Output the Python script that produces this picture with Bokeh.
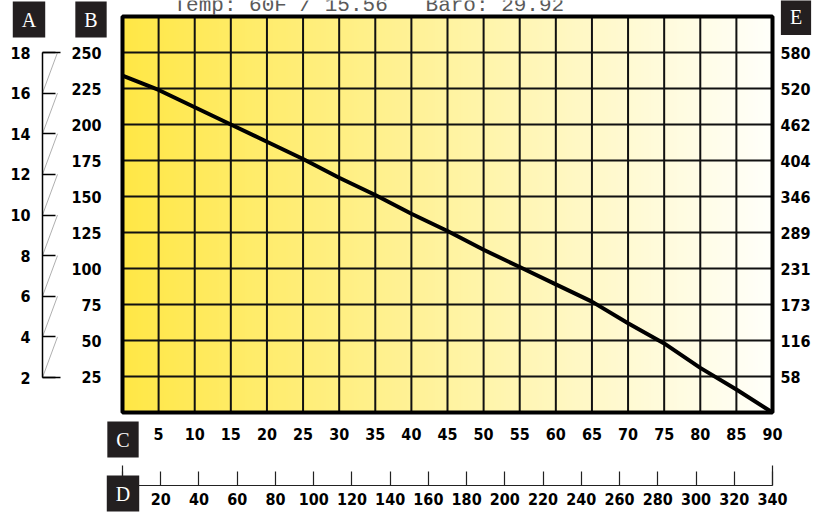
import numpy as np
from bokeh.plotting import figure
from bokeh.models import Range1d, LinearAxis, FixedTicker, Label
from bokeh.embed import file_html
from bokeh.resources import INLINE

# ---------------- data ----------------
angle_deg = [0, 5, 10, 15, 20, 25, 30, 35, 40, 45, 50, 55, 60, 65, 70, 75, 80, 85, 90]
value_b = [234, 224, 212, 200, 188, 176, 163, 151, 138, 126, 113, 101, 89, 77, 62, 48, 31, 16, 0]

c_ticks = [5, 10, 15, 20, 25, 30, 35, 40, 45, 50, 55, 60, 65, 70, 75, 80, 85, 90]
b_ticks = [25, 50, 75, 100, 125, 150, 175, 200, 225, 250]
e_labels = ["58", "116", "173", "231", "289", "346", "404", "462", "520", "580"]
a_ticks = [2, 4, 6, 8, 10, 12, 14, 16, 18]
d_ticks = [0, 20, 40, 60, 80, 100, 120, 140, 160, 180, 200, 220, 240, 260, 280, 300, 320, 340]
title_parts = ["Temp: 60F / 15.56", "Baro: 29.92"]
box_letters = ["A", "B", "C", "D", "E"]

X_MAX = 90      # end of the angle scale
Y_MAX = 275     # top of the B scale
D_MAX = 340     # end of the D scale

# ---------------- layout (pixels on the 816x513 canvas) ----------------
W, H = 816, 513
PL, PR, PT, PB = 122, 772, 16, 412          # chart box
A_LO_PX, A_HI_PX = 377, 52                  # where A = 2 and A = 18 sit
A_AXIS_PX = 42                              # x of the A scale line
A_TICK_PX = 55                              # x of the A tick ends
A_END_TICK_PX = 60                          # x of the longer end ticks
D_AXIS_PX = 485                             # y of the D scale line
D_END_TICK_PX = 465                         # top of the longer D end ticks


def x_at(px):
    return (px - PL) / (PR - PL) * X_MAX


def y_at(py):
    return (PB - py) / (PB - PT) * Y_MAX


def a_at(py):
    per = (A_LO_PX - A_HI_PX) / (a_ticks[-1] - a_ticks[0])
    return a_ticks[0] + (A_LO_PX - py) / per


def d_at(px):
    return (px - PL) / (PR - PL) * D_MAX


TICK_FONT = "DejaVu Sans Condensed"

p = figure(width=W, height=H,
           x_range=Range1d(x_at(0), x_at(W)), y_range=Range1d(y_at(H), y_at(0)),
           x_axis_location=None, y_axis_location=None,
           output_backend="svg", toolbar_location=None,
           min_border=0)
p.extra_y_ranges = {"A": Range1d(a_at(H), a_at(0))}
p.extra_x_ranges = {"D": Range1d(d_at(0), d_at(W))}
p.background_fill_color = "white"
p.border_fill_color = "white"
p.outline_line_color = None
p.grid.visible = False

# gradient background of the chart box (style)
N = 256
t = np.linspace(0.0, 1.0, N)
c0 = np.array([255, 231, 70])
c1 = np.array([255, 255, 250])
img = np.empty((1, N), dtype=np.uint32)
view = img.view(dtype=np.uint8).reshape((1, N, 4))
for k in range(3):
    view[0, :, k] = np.round(c0[k] + (c1[k] - c0[k]) * t).astype(np.uint8)
view[0, :, 3] = 255
p.image_rgba(image=[img], x=0, y=0, dw=X_MAX, dh=Y_MAX)

# grid lines at the tick values
p.segment(x0=c_ticks, y0=[0] * len(c_ticks), x1=c_ticks, y1=[Y_MAX] * len(c_ticks),
          line_color="#111111", line_width=2)
p.segment(x0=[0] * len(b_ticks), y0=b_ticks, x1=[X_MAX] * len(b_ticks), y1=b_ticks,
          line_color="#111111", line_width=2)

# data line
p.line(angle_deg, value_b, line_color="black", line_width=4)

# chart box outline
p.quad(left=0, right=X_MAX, bottom=0, top=Y_MAX, fill_color=None,
       line_color="black", line_width=4)


def style(ax):
    ax.major_label_text_font = TICK_FONT
    ax.major_label_text_font_style = "bold"
    ax.major_label_text_font_size = "16px"
    ax.major_label_text_color = "black"
    ax.minor_tick_line_color = None


def bare(ax):
    ax.axis_line_color = None
    ax.major_tick_line_color = None
    ax.major_tick_in = 0
    ax.major_tick_out = 0


# B scale (left of chart box)
axB = LinearAxis(ticker=FixedTicker(ticks=b_ticks), fixed_location=0)
style(axB)
bare(axB)
axB.major_label_standoff = 21
p.add_layout(axB, "left")

# A scale (far left)
axA = LinearAxis(y_range_name="A", ticker=FixedTicker(ticks=a_ticks),
                 fixed_location=x_at(A_AXIS_PX))
style(axA)
axA.bounds = (a_ticks[0], a_ticks[-1])
axA.axis_line_color = "black"
axA.axis_line_width = 1.5
axA.major_tick_line_color = "black"
axA.major_tick_line_width = 1.5
axA.major_tick_in = A_TICK_PX - A_AXIS_PX
axA.major_tick_out = 0
axA.major_label_standoff = 12
p.add_layout(axA, "left")

# thin zig-zag of the A scale and its longer end ticks
p.segment(x0=[x_at(A_AXIS_PX)] * (len(a_ticks) - 1), y0=a_ticks[:-1],
          x1=[x_at(A_TICK_PX + 2)] * (len(a_ticks) - 1), y1=a_ticks[1:],
          y_range_name="A", line_color="#9a9a9a", line_width=0.8)
p.segment(x0=[x_at(A_AXIS_PX)] * 2, y0=[a_ticks[0], a_ticks[-1]],
          x1=[x_at(A_END_TICK_PX)] * 2, y1=[a_ticks[0], a_ticks[-1]],
          y_range_name="A", line_color="black", line_width=1.5)

# C scale (below chart box)
axC = LinearAxis(ticker=FixedTicker(ticks=c_ticks), fixed_location=0)
style(axC)
bare(axC)
axC.major_label_standoff = 15
p.add_layout(axC, "below")

# D scale (lowest)
axD = LinearAxis(x_range_name="D", ticker=FixedTicker(ticks=d_ticks),
                 fixed_location=y_at(D_AXIS_PX))
style(axD)
axD.bounds = (0, D_MAX)
axD.major_label_overrides = {0: ""}
axD.axis_line_color = "#222222"
axD.axis_line_width = 1.2
axD.major_tick_line_color = "#222222"
axD.major_tick_line_width = 1.2
axD.major_tick_in = 14
axD.major_tick_out = 0
axD.major_label_standoff = 7
p.add_layout(axD, "below")
p.segment(x0=[0, D_MAX], y0=[y_at(D_AXIS_PX)] * 2, x1=[0, D_MAX], y1=[y_at(D_END_TICK_PX)] * 2,
          x_range_name="D", line_color="#222222", line_width=1.2)

# E scale (right of chart box)
axE = LinearAxis(ticker=FixedTicker(ticks=b_ticks), fixed_location=X_MAX)
style(axE)
bare(axE)
axE.major_label_overrides = {b: e for b, e in zip(b_ticks, e_labels)}
axE.major_label_standoff = 8
p.add_layout(axE, "right")

# title (partly cut at the top in the original)
title_text = "\u00a0\u00a0\u00a0".join(title_parts)
p.add_layout(Label(x=173, y=5, x_units="canvas", y_units="canvas",
                   text=title_text, text_align="left", text_baseline="alphabetic",
                   text_font="Liberation Mono", text_font_size="21px",
                   text_color="#5a5a5a"))

# letter boxes
box_pos = [(28.5, 19), (90.5, 19), (122.5, 439), (122.5, 493), (795.5, 16.5)]
for letter, (cx, cy) in zip(box_letters, box_pos):
    p.add_layout(Label(x=cx, y=cy, x_units="canvas", y_units="canvas",
                       text=letter, text_align="center", text_baseline="middle",
                       text_font="Liberation Serif", text_font_size="20px",
                       text_color="white", background_fill_color="#231f20",
                       background_fill_alpha=1.0, padding=(9, 7)))

open("out.html", "w").write(file_html(p, INLINE))
